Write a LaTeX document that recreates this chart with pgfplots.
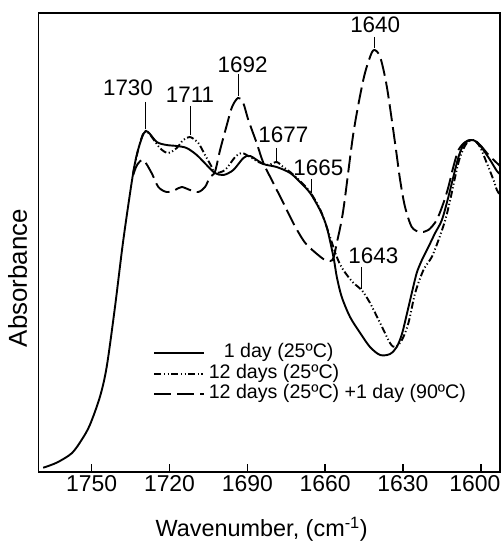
\documentclass[border=0pt]{standalone}
\usepackage{fontspec}
\setmainfont{Liberation Sans}
\usepackage{pgfplots}
\pgfplotsset{compat=1.18}
\begin{document}
\begin{tikzpicture}
\begin{axis}[
  scale only axis, width=461.5bp, height=459bp,
  xmin=1592.6, xmax=1770.5, ymin=0, ymax=459,
  x dir=reverse,
  axis line style={line width=1.8bp},
  xtick={1600,1630,1660,1690,1720,1750},
  xticklabels={{\hspace*{-12bp}1600},1630,1660,1690,1720,1750},
  xtick pos=bottom, tick align=inside, major tick length=8bp,
  every tick/.style={line width=1.5bp, black},
  ytick=\empty,
  xticklabel style={font=\fontsize{23}{26}\selectfont},
  xlabel={Wavenumber, (cm\textsuperscript{-1})},
  xlabel style={at={(axis description cs:0.4836,-0.1416)}, anchor=base, font=\fontsize{23.5}{26}\selectfont},
  ylabel={Absorbance},
  ylabel style={at={(axis description cs:-0.0455,0.4227)}, anchor=center, font=\fontsize{26}{28}\selectfont},
  legend style={at={(axis description cs:0.2488,0.281)}, anchor=north west, draw=none, fill=none,
    font=\fontsize{19.7}{20}\selectfont, inner sep=0pt, row sep=0pt, column sep=3.4bp,
    nodes={inner sep=0pt, text height=14.5bp, text depth=5.8bp}},
  legend cell align=left,
  legend image code/.code={\draw[#1] (0bp,0bp) -- (50bp,0bp);},
  every axis plot/.append style={line width=1.9bp, black, smooth, tension=0.5},
]
% 1 day (25 C)
\addplot[solid] coordinates {
(1768.7,4.3) (1763.5,9.3) (1757.7,18.7) (1753.9,32) (1750.7,47) (1746.8,75.3) (1744.2,105.3) (1741.0,165.3) (1737.8,232) (1734.0,299) (1731.8,325) (1729.1,341)
(1724.9,330) (1721.1,327) (1717.2,326) (1713.4,324) (1709.5,317) (1705.7,307) (1702.5,299) (1699.2,297) (1695.4,302) (1691.5,314) (1688.9,316) (1683.8,308) (1678.7,305) (1673.5,299) (1669.7,290) (1665.8,279) (1662.0,262) (1659.4,245) (1656.8,215) (1655.5,195) (1653.6,175) (1650.4,155) (1646.5,139) (1642.7,125) (1638.8,117) (1635.0,118) (1632.4,125) (1630.4,138) (1628.5,158) (1626.6,179) (1624.7,199) (1622.7,212) (1620.2,225) (1617.6,239) (1615.0,252) (1612.5,275) (1610.6,295) (1608.6,315) (1606.7,327) (1604.1,332) (1601.5,330) (1599.0,322) (1596.4,312) (1593.8,301) (1592.6,298)
};
\addlegendentry{\hspace{15bp}1 day (25ºC)}
% 12 days (25 C)
\addplot[dash pattern=on 7bp off 2.5bp on 1.2bp off 2.5bp on 1.2bp off 2.5bp] coordinates {
(1734.0,299) (1731.8,325) (1729.1,341)
(1723.7,324) (1720.5,319) (1717.2,324) (1714.7,332) (1712.1,335) (1708.9,329) (1706.3,317) (1703.7,305) (1702.5,299) (1698.6,302) (1694.7,315) (1692.2,319) (1688.9,315) (1685.7,310) (1682.0,307) (1678.7,310) (1676.2,305) (1673.5,300) (1669.7,291) (1665.8,280) (1662.0,263) (1659.4,245) (1655.5,215) (1653.0,202) (1649.1,189) (1645.9,182) (1642.7,169) (1638.8,149) (1635.0,129) (1633.0,125) (1630.4,132) (1627.9,149) (1625.3,179) (1622.1,202) (1618.9,215) (1616.3,232) (1613.7,252) (1611.8,272) (1609.9,295) (1608.0,315) (1605.4,329) (1602.8,332) (1600.3,325) (1597.7,309) (1595.1,292) (1593.8,282) (1592.6,277)
};
\addlegendentry{12 days (25ºC)}
% 12 days (25 C) + 1 day (90 C)
\addplot[dash pattern=on 17bp off 6bp] coordinates {
(1734.0,297) (1732.5,307) (1730.1,312) (1726.9,299) (1724.3,285) (1721.1,280) (1717.9,282) (1715.3,285) (1712.1,282) (1708.9,280) (1706.3,285) (1704.4,295) (1702.5,300) (1700.5,322) (1697.9,347) (1695.9,365) (1693.6,374) (1691.7,370) (1689.6,352) (1686.4,329) (1683.8,309) (1680.0,289) (1676.1,269) (1672.3,249) (1668.5,232) (1665.8,224) (1660.7,213) (1658.1,211) (1656.8,214) (1655.5,229) (1653.0,262) (1649.1,339) (1645.3,392) (1642.7,415) (1641.1,422) (1638.8,415) (1636.2,385) (1633.0,328) (1631.1,292) (1629.2,265) (1626.6,245) (1623.4,240) (1620.2,242) (1617.0,252) (1614.4,269) (1612.5,285) (1610.6,305) (1608.6,322) (1606.0,330) (1603.5,332) (1600.3,327) (1597.0,317) (1593.8,309) (1592.6,306)
};
\addlegendentry{12 days (25ºC) +1 day (90ºC)}
% peak annotations
\begin{scope}[font=\fontsize{22.5}{24}\selectfont]
\node at (axis cs:1736.0,384) {1730};
\node at (axis cs:1712.1,377) {1711};
\node at (axis cs:1691.8,407) {1692};
\node at (axis cs:1676.1,337) {1677};
\node at (axis cs:1662.6,304) {1665};
\node at (axis cs:1640.7,447) {1640};
\node at (axis cs:1641.4,216) {1643};
\end{scope}
\begin{scope}[line width=0.8bp]
\draw (axis cs:1729.2,370) -- (axis cs:1729.2,343);
\draw (axis cs:1711.8,366) -- (axis cs:1711.8,337);
\draw (axis cs:1693.6,398) -- (axis cs:1693.6,376);
\draw (axis cs:1678.7,324) -- (axis cs:1678.7,310);
\draw (axis cs:1665.2,293) -- (axis cs:1665.2,279);
\draw (axis cs:1641.1,435) -- (axis cs:1641.1,424);
\draw (axis cs:1645.9,205) -- (axis cs:1645.9,183);
\end{scope}
\end{axis}
\pgfresetboundingbox
\useasboundingbox (-38.5bp,-69bp) rectangle (465.5bp,472bp);
\end{tikzpicture}
\end{document}
